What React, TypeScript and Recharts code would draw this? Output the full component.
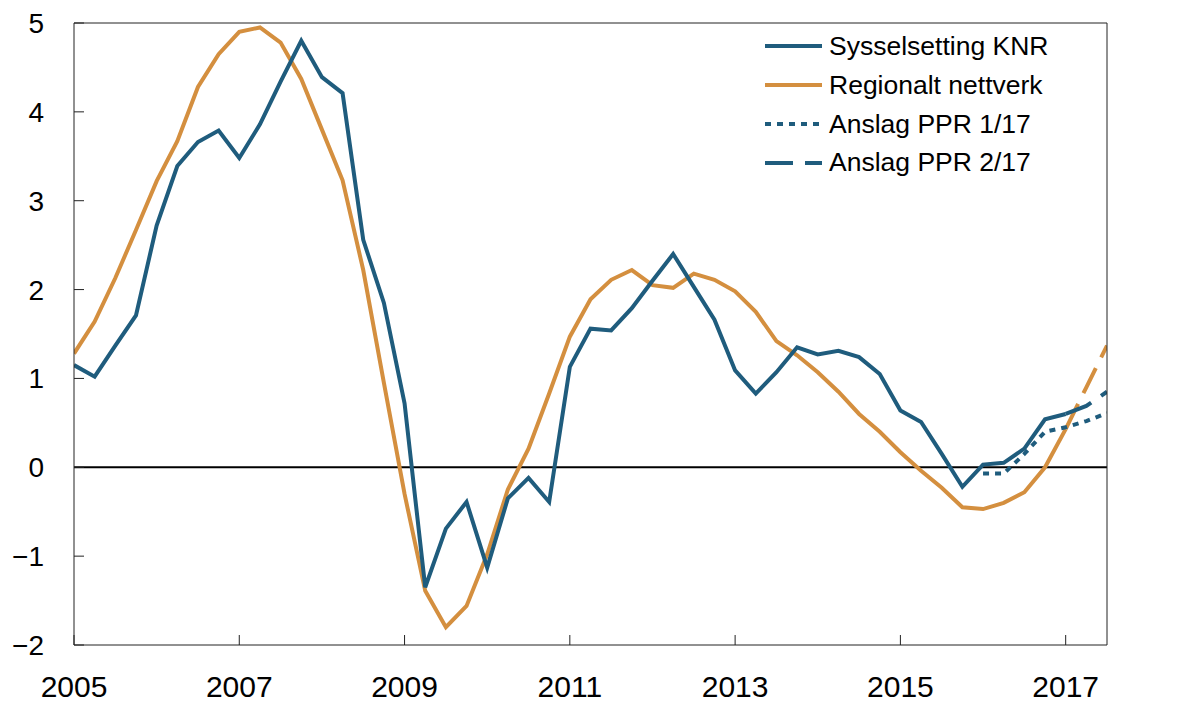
import React from 'react';
import { LineChart, Line, XAxis, YAxis, ReferenceLine } from 'recharts';

const quarters = [
  2005.0, 2005.25, 2005.5, 2005.75, 2006.0, 2006.25, 2006.5, 2006.75,
  2007.0, 2007.25, 2007.5, 2007.75, 2008.0, 2008.25, 2008.5, 2008.75,
  2009.0, 2009.25, 2009.5, 2009.75, 2010.0, 2010.25, 2010.5, 2010.75,
  2011.0, 2011.25, 2011.5, 2011.75, 2012.0, 2012.25, 2012.5, 2012.75,
  2013.0, 2013.25, 2013.5, 2013.75, 2014.0, 2014.25, 2014.5, 2014.75,
  2015.0, 2015.25, 2015.5, 2015.75, 2016.0, 2016.25, 2016.5, 2016.75,
  2017.0, 2017.25, 2017.5,
];

const sysselsetting = [
  1.15, 1.02, 1.37, 1.71, 2.72, 3.39, 3.66, 3.79,
  3.48, 3.86, 4.34, 4.80, 4.39, 4.21, 2.56, 1.85,
  0.72, -1.35, -0.69, -0.39, -1.13, -0.35, -0.12, -0.39,
  1.13, 1.56, 1.54, 1.79, 2.10, 2.40, 2.03, 1.66,
  1.09, 0.83, 1.07, 1.35, 1.27, 1.31, 1.24, 1.05,
  0.64, 0.51, 0.15, -0.22, 0.03, 0.05, 0.21, 0.54,
  0.60, null, null,
];

const regionalt = [
  1.28, 1.64, 2.13, 2.67, 3.22, 3.67, 4.28, 4.65,
  4.90, 4.95, 4.78, 4.37, 3.80, 3.23, 2.22, 0.95,
  -0.30, -1.39, -1.80, -1.56, -0.98, -0.25, 0.21, 0.83,
  1.47, 1.89, 2.11, 2.22, 2.05, 2.02, 2.18, 2.11,
  1.98, 1.75, 1.42, 1.26, 1.07, 0.85, 0.60, 0.40,
  0.17, -0.04, -0.23, -0.45, -0.47, -0.40, -0.28, 0.00,
  0.43, null, null,
];

const regionaltAnslag = [
  null, null, null, null, null, null, null, null,
  null, null, null, null, null, null, null, null,
  null, null, null, null, null, null, null, null,
  null, null, null, null, null, null, null, null,
  null, null, null, null, null, null, null, null,
  null, null, null, null, null, null, null, null,
  0.43, 0.90, 1.37,
];

const anslagPPR1 = [
  null, null, null, null, null, null, null, null,
  null, null, null, null, null, null, null, null,
  null, null, null, null, null, null, null, null,
  null, null, null, null, null, null, null, null,
  null, null, null, null, null, null, null, null,
  null, null, null, null, -0.07, -0.07, 0.15, 0.40,
  0.45, 0.52, 0.61,
];

const anslagPPR2 = [
  null, null, null, null, null, null, null, null,
  null, null, null, null, null, null, null, null,
  null, null, null, null, null, null, null, null,
  null, null, null, null, null, null, null, null,
  null, null, null, null, null, null, null, null,
  null, null, null, null, null, null, null, null,
  0.60, 0.69, 0.85,
];

const xTicks = [2005, 2007, 2009, 2011, 2013, 2015, 2017];
const yTicks = [-2, -1, 0, 1, 2, 3, 4, 5];

const seriesNames = ['Sysselsetting KNR', 'Regionalt nettverk', 'Anslag PPR 1/17', 'Anslag PPR 2/17'];

const BLUE = '#1f5c7d';
const ORANGE = '#d48f3f';
const AXIS = '#222';
const FONT = '"Liberation Sans", Arial, Helvetica, sans-serif';

const data = quarters.map((t, i) => ({
  t,
  knr: sysselsetting[i],
  reg: regionalt[i],
  regF: regionaltAnslag[i],
  ppr1: anslagPPR1[i],
  ppr2: anslagPPR2[i],
}));

const fmt = (v: number) => (v < 0 ? '\u2212' + Math.abs(v) : String(v));

const legendStyles = [
  { color: BLUE, dash: undefined as string | undefined },
  { color: ORANGE, dash: undefined as string | undefined },
  { color: BLUE, dash: '6 6' },
  { color: BLUE, dash: '28 12' },
];

const LegendBox = () => (
  <div
    style={{
      position: 'absolute',
      left: 765,
      top: 27,
      fontFamily: FONT,
      fontSize: 26.5,
      color: '#000',
    }}
  >
    {seriesNames.map((name, i) => (
      <div key={name} style={{ display: 'flex', alignItems: 'center', height: 38.8 }}>
        <svg width={64} height={10} style={{ display: 'block' }}>
          <line
            x1={0}
            y1={5}
            x2={57}
            y2={5}
            stroke={legendStyles[i].color}
            strokeWidth={4}
            strokeDasharray={legendStyles[i].dash}
          />
        </svg>
        <span style={{ lineHeight: '38.8px', whiteSpace: 'nowrap' }}>{name}</span>
      </div>
    ))}
  </div>
);

export default function App() {
  return (
    <div style={{ position: 'absolute', left: 0, top: 0, width: 1177, height: 702, background: '#fff' }}>
      <LineChart
        width={1177}
        height={702}
        data={data}
        margin={{ top: 23, right: 10, bottom: 7, left: 14 }}
        style={{ fontFamily: FONT }}
      >
        <XAxis
          dataKey="t"
          type="number"
          domain={[2005, 2017.5]}
          ticks={xTicks}
          allowDataOverflow
          height={50}
          tickSize={-10}
          tickMargin={41}
          stroke={AXIS}
          tick={{ fontSize: 30, fill: '#000', fontFamily: FONT }}
          tickLine={{ stroke: AXIS }}
          axisLine={{ stroke: AXIS }}
          interval={0}
        />
        <YAxis
          yAxisId="left"
          domain={[-2, 5]}
          ticks={yTicks}
          width={60}
          tickSize={-10}
          tickMargin={40}
          tickFormatter={fmt}
          stroke={AXIS}
          tick={{ fontSize: 28, fill: '#000', fontFamily: FONT }}
          interval={0}
        />
        <YAxis
          yAxisId="right"
          orientation="right"
          domain={[-2, 5]}
          ticks={yTicks}
          width={60}
          tickSize={-10}
          tickMargin={37}
          tickFormatter={fmt}
          stroke={AXIS}
          tick={{ fontSize: 28, fill: '#000', fontFamily: FONT }}
          interval={0}
        />
        <ReferenceLine yAxisId="left" y={5} stroke={AXIS} strokeWidth={1} />
        <ReferenceLine yAxisId="left" y={0} stroke="#000" strokeWidth={2} />
        <Line yAxisId="left" type="linear" dataKey="reg" stroke={ORANGE} strokeWidth={4} dot={false} isAnimationActive={false} />
        <Line yAxisId="left" type="linear" dataKey="regF" stroke={ORANGE} strokeWidth={4} strokeDasharray="28 12" dot={false} isAnimationActive={false} />
        <Line yAxisId="left" type="linear" dataKey="ppr1" stroke={BLUE} strokeWidth={4} strokeDasharray="6 6" dot={false} isAnimationActive={false} />
        <Line yAxisId="left" type="linear" dataKey="ppr2" stroke={BLUE} strokeWidth={4} strokeDasharray="28 12" dot={false} isAnimationActive={false} />
        <Line yAxisId="left" type="linear" dataKey="knr" stroke={BLUE} strokeWidth={4} dot={false} isAnimationActive={false} />
      </LineChart>
      <LegendBox />
    </div>
  );
}
